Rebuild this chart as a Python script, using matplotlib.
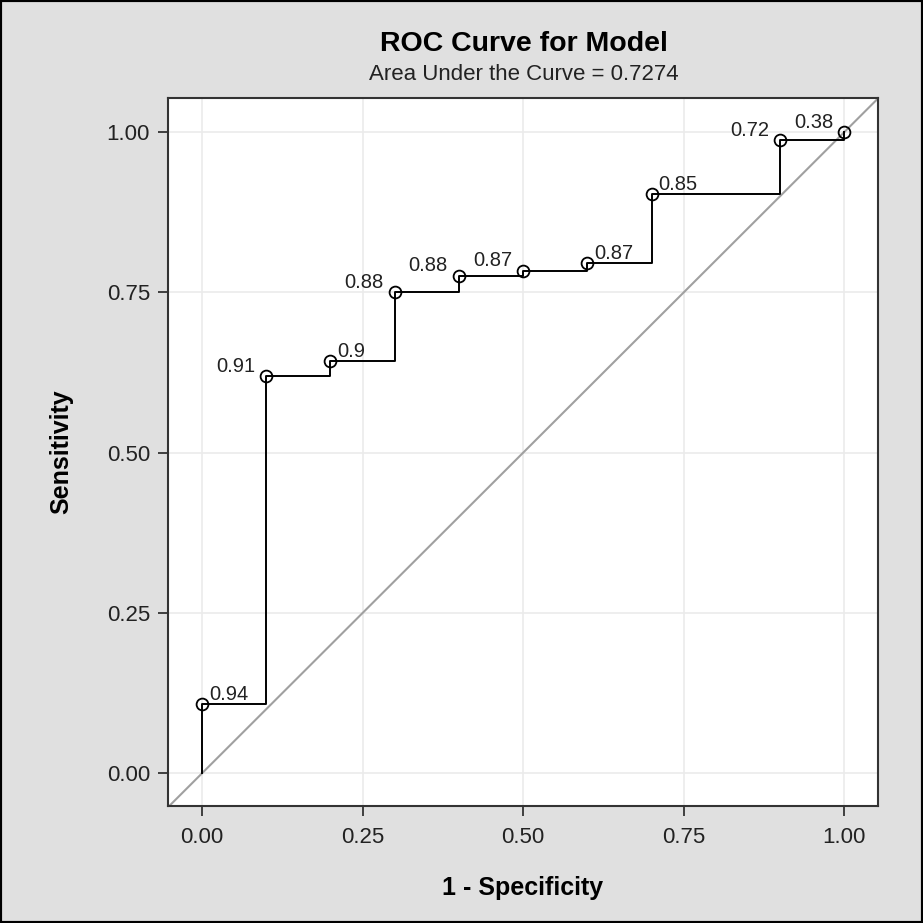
import matplotlib
matplotlib.use("Agg")
import matplotlib.pyplot as plt
from matplotlib.patches import Rectangle

# ROC points (1 - specificity, sensitivity) with cutoff labels
fpr = [0.0, 0.1, 0.2, 0.3, 0.4, 0.5, 0.6, 0.7, 0.9, 1.0]
tpr = [0.108, 0.620, 0.643, 0.751, 0.776, 0.784, 0.795, 0.903, 0.988, 1.0]
cutoffs = ["0.94", "0.91", "0.9", "0.88", "0.88", "0.87", "0.87", "0.85", "0.72", "0.38"]
label_side = ["R", "L", "R", "L", "L", "L", "R", "R", "L", "L"]
ticks = [0.0, 0.25, 0.5, 0.75, 1.0]
tick_labels = ["0.00", "0.25", "0.50", "0.75", "1.00"]
auc = 0.7274

plt.rcParams['font.family'] = ['Liberation Sans', 'DejaVu Sans']

fig = plt.figure(figsize=(9.23, 9.23), dpi=100)
fig.patch.set_facecolor('#e0e0e0')
ax = fig.add_axes([0.182, 0.1268, 0.769, 0.767])
ax.set_facecolor('white')

ax.set_xlim(-0.053, 1.052)
ax.set_ylim(-0.051, 1.053)

ax.grid(True, color='#ebebeb', lw=1.2, zorder=0)
ax.set_axisbelow(True)

# chance diagonal across the whole plot area
ax.axline((0, 0), (1, 1), color='#a0a0a0', lw=1.5, zorder=1)

# step curve starting at the origin
ax.step([0.0] + fpr, [0.0] + tpr, where='post', color='black', lw=1.4, zorder=2)
ax.plot(fpr, tpr, 'o', ms=8.5, mfc='none', mec='black', mew=1.3, zorder=3)

for x, y, t, s in zip(fpr, tpr, cutoffs, label_side):
    if s == "R":
        ax.annotate(t, (x, y), xytext=(5, 3), textcoords='offset points',
                    ha='left', va='baseline', fontsize=14.5, color='#222222')
    else:
        ax.annotate(t, (x, y), xytext=(-8, 3), textcoords='offset points',
                    ha='right', va='baseline', fontsize=14.5, color='#222222')

ax.set_xticks(ticks)
ax.set_xticklabels(tick_labels)
ax.set_yticks(ticks)
ax.set_yticklabels(tick_labels)
ax.tick_params(axis='both', length=7, width=1.3, color='#333333',
               labelsize=16, labelcolor='#222222')
ax.tick_params(axis='x', pad=8)
ax.tick_params(axis='y', pad=6)
for sp in ax.spines.values():
    sp.set_color('#333333')
    sp.set_linewidth(1.5)

ax.set_xlabel('1 - Specificity', fontsize=18, fontweight='bold', labelpad=20)
ax.set_ylabel('Sensitivity', fontsize=18, fontweight='bold', labelpad=24)

fig.text(0.568, 0.952, 'ROC Curve for Model', ha='center', va='center',
         fontsize=20.5, fontweight='bold')
fig.text(0.568, 0.919, 'Area Under the Curve = %.4f' % auc, ha='center',
         va='center', fontsize=16, color='#222222')

fig.patches.append(Rectangle((0, 0), 1, 1, transform=fig.transFigure,
                             fill=False, edgecolor='black', lw=3))

fig.savefig('out.png', dpi=100, facecolor=fig.get_facecolor())
